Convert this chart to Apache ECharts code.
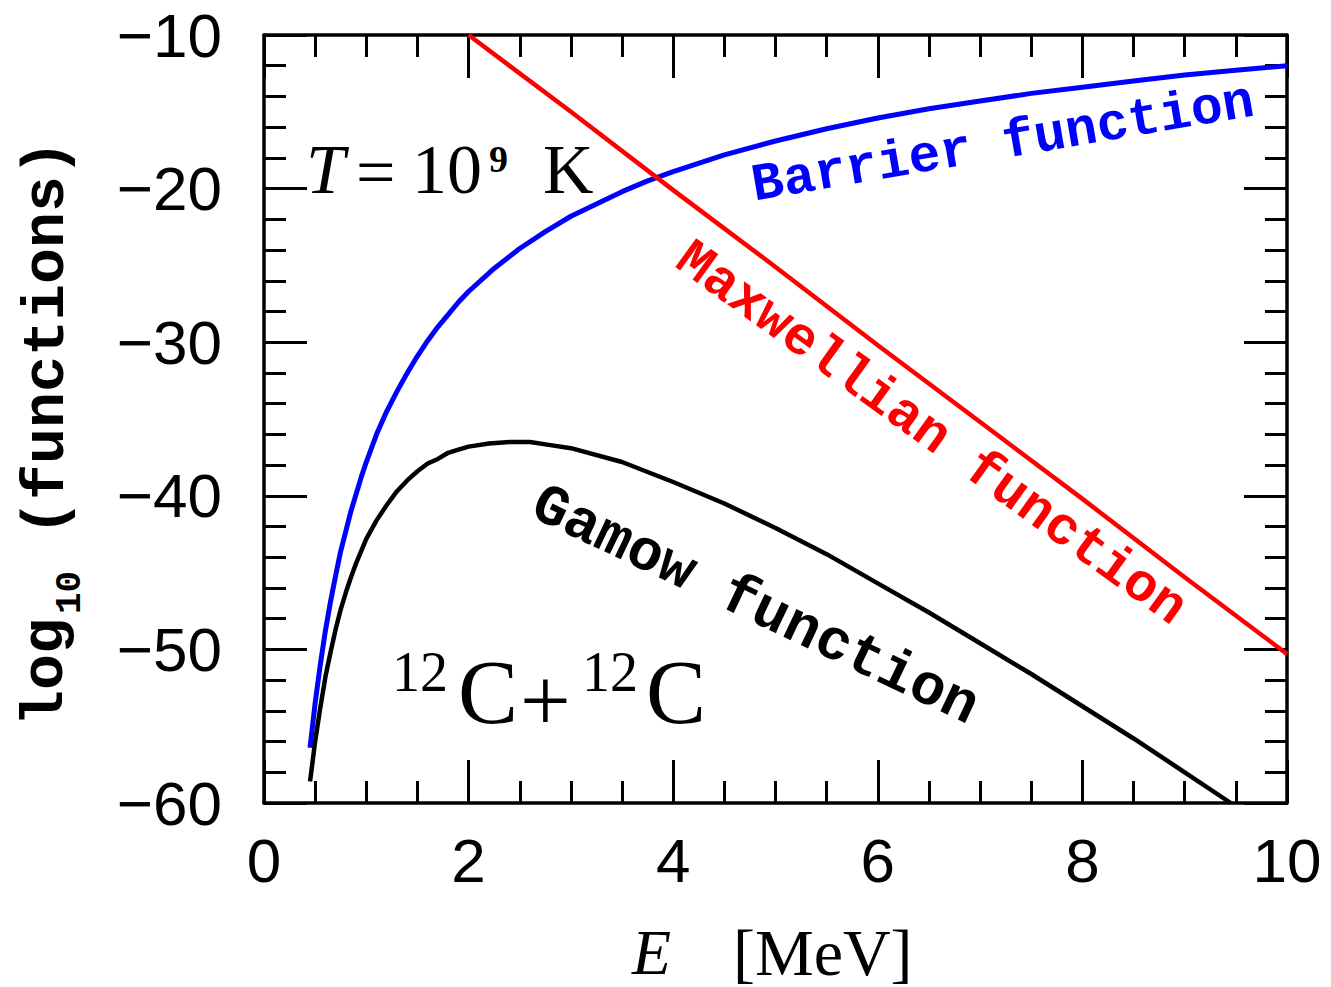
<!DOCTYPE html>
<html><head><meta charset="utf-8">
<script src="https://cdn.jsdelivr.net/npm/echarts@6.0.0/dist/echarts.min.js"></script>
<style>html,body{margin:0;padding:0;background:#fff}#c{width:1331px;height:987px}</style>
</head><body><div id="c"></div>
<script>
// Energies (MeV) and log10 values
const gamowE = [0.45,0.5,0.55,0.6,0.65,0.7,0.75,0.8,0.85,0.9,0.95,1.0,1.1,1.2,1.3,1.4,1.5,1.6,1.7,1.8,1.9,2.0,2.2,2.4,2.6,2.8,3.0,3.5,4.0,4.5,5.0,5.5,6.0,6.5,7.0,7.5,8.0,8.5,9.0,9.45];
const gamowV = [-58.6,-56.0,-53.8,-51.8,-50.2,-48.7,-47.4,-46.3,-45.3,-44.4,-43.6,-42.8,-41.6,-40.6,-39.7,-39.0,-38.4,-37.9,-37.6,-37.2,-37.0,-36.8,-36.6,-36.5,-36.5,-36.7,-36.9,-37.8,-39.1,-40.5,-42.1,-43.8,-45.7,-47.6,-49.6,-51.6,-53.7,-55.8,-58.0,-60.0];
const barrierE = [0.45,0.5,0.55,0.6,0.65,0.7,0.75,0.8,0.85,0.9,0.95,1.0,1.1,1.2,1.3,1.4,1.5,1.6,1.7,1.8,1.9,2.0,2.25,2.5,2.75,3.0,3.25,3.5,3.75,4.0,4.5,5.0,5.5,6.0,6.5,7.0,7.5,8.0,8.5,9.0,9.5,10.0];
const barrierV = [-56.4,-53.5,-51.0,-48.8,-46.9,-45.2,-43.6,-42.3,-41.0,-39.9,-38.8,-37.8,-36.0,-34.5,-33.2,-32.0,-30.9,-29.9,-29.0,-28.2,-27.4,-26.7,-25.2,-23.9,-22.8,-21.8,-21.0,-20.2,-19.5,-18.9,-17.8,-16.9,-16.1,-15.4,-14.8,-14.3,-13.8,-13.4,-13.0,-12.6,-12.3,-12.0];
const maxwellE = [2,3,4,5,6,7,8,9,10];
const maxwellV = [-10.0,-15.0,-20.1,-25.1,-30.2,-35.2,-40.2,-45.3,-50.3];
const xTicks = [0,2,4,6,8,10];
const yTicks = [-60,-50,-40,-30,-20,-10];

const pairs = (xs, ys) => xs.map((x, i) => [x, ys[i]]);
const chart = echarts.init(document.getElementById('c'), null, {renderer: 'svg'});
const labelFont = () => ({fontFamily: '"Liberation Sans", Arial, sans-serif', fontSize: 62, color: '#000'});
const axisParts = (minorSplit) => ({
  axisLine: {show: true, onZero: false, lineStyle: {color: '#000', width: 3.5}},
  axisTick: {show: true, inside: true, length: 43, lineStyle: {color: '#000', width: 3}},
  minorTick: {show: true, splitNumber: minorSplit, length: 22, lineStyle: {color: '#000', width: 3}},
  splitLine: {show: false}, minorSplitLine: {show: false}
});
const xAxisBase = () => Object.assign({type: 'value', min: xTicks[0], max: xTicks[xTicks.length-1], interval: 2}, axisParts(4));
const yAxisBase = () => Object.assign({type: 'value', min: yTicks[0], max: yTicks[yTicks.length-1], interval: 10}, axisParts(5));
const mono = '"Liberation Mono", "Courier New", monospace';
const serif = '"Liberation Serif", "Times New Roman", serif';
const deg = Math.PI / 180;
const txt = (text, x, y, font, extra) => Object.assign({type: 'text', x, y,
  style: Object.assign({text, fill: '#000', align: 'left', verticalAlign: 'middle'}, font)}, extra || {});

chart.setOption({
  animation: false,
  backgroundColor: '#fff',
  grid: {left: 264, right: 44, top: 35, bottom: 184, show: false},
  xAxis: [
    Object.assign(xAxisBase(), {position: 'bottom', axisLabel: Object.assign({margin: 26}, labelFont())}),
    Object.assign(xAxisBase(), {position: 'top', axisLabel: {show: false}})
  ],
  yAxis: [
    Object.assign(yAxisBase(), {position: 'left', axisLabel: Object.assign({margin: 42,
      formatter: v => String(v).replace('-', '\u2212')}, labelFont())}),
    Object.assign(yAxisBase(), {position: 'right', axisLabel: {show: false}})
  ],
  series: [
    {type: 'line', name: 'Barrier', data: pairs(barrierE, barrierV), showSymbol: false,
     lineStyle: {color: '#0000ff', width: 5}, z: 3},
    {type: 'line', name: 'Maxwellian', data: pairs(maxwellE, maxwellV), showSymbol: false,
     lineStyle: {color: '#ff0000', width: 4.5}, z: 3},
    {type: 'line', name: 'Gamow', data: pairs(gamowE, gamowV), showSymbol: false,
     lineStyle: {color: '#000', width: 4.5}, z: 3}
  ],
  graphic: [
    // x axis title
    txt('E', 632, 952, {fontFamily: serif, fontStyle: 'italic', fontSize: 64}),
    txt('[MeV]', 733, 952, {fontFamily: serif, fontSize: 66}),
    // y axis title (rotated)
    txt('log', 46, 726, {fontFamily: mono, fontWeight: 'bold', fontSize: 60}, {rotation: 90 * deg}),
    txt('10', 70, 614, {fontFamily: mono, fontWeight: 'bold', fontSize: 36}, {rotation: 90 * deg}),
    txt('(functions)', 47, 536, {fontFamily: mono, fontWeight: 'bold', fontSize: 60}, {rotation: 90 * deg}),
    // T = 10^9 K
    txt('T', 306, 169, {fontFamily: serif, fontStyle: 'italic', fontSize: 70}),
    txt('=', 356, 172, {fontFamily: serif, fontSize: 70}),
    txt('10', 412, 169, {fontFamily: serif, fontSize: 70}),
    txt('9', 489, 159, {fontFamily: serif, fontSize: 38, fontWeight: 'bold'}),
    txt('K', 543, 169, {fontFamily: serif, fontSize: 70}),
    // 12C + 12C
    txt('12', 392, 672, {fontFamily: serif, fontSize: 56}),
    txt('C', 458, 692, {fontFamily: serif, fontSize: 90}),
    txt('+', 520, 700, {fontFamily: serif, fontSize: 90}),
    txt('12', 582, 672, {fontFamily: serif, fontSize: 56}),
    txt('C', 646, 692, {fontFamily: serif, fontSize: 90}),
    // curve labels
    {type: 'text', x: 1003, y: 144, rotation: 9.7 * deg,
     style: {text: 'Barrier function', fill: '#0000ff', fontFamily: mono, fontWeight: 'bold', fontSize: 53, align: 'center', verticalAlign: 'middle'}},
    {type: 'text', x: 931, y: 434, rotation: -35.9 * deg,
     style: {text: 'Maxwellian function', fill: '#ff0000', fontFamily: mono, fontWeight: 'bold', fontSize: 54, align: 'center', verticalAlign: 'middle'}},
    {type: 'text', x: 755, y: 606, rotation: -25.4 * deg,
     style: {text: 'Gamow function', fill: '#000', fontFamily: mono, fontWeight: 'bold', fontSize: 58, align: 'center', verticalAlign: 'middle'}}
  ]
});
</script></body></html>
